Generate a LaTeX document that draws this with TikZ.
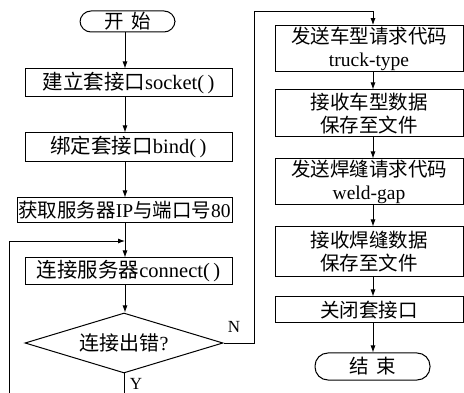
\documentclass[tikz,border=0pt]{standalone}
\usepackage{fontspec}
\setmainfont{Liberation Serif}
\newfontfamily\cjk{Noto Sans CJK SC}
\usetikzlibrary{shapes.geometric,arrows.meta}
\begin{document}
\begin{tikzpicture}[x=1pt,y=-1pt,
  every node/.style={inner sep=1pt},
  lbox/.style={draw,line width=1pt,minimum width=207pt,align=center,font=\fontsize{20.5}{23}\selectfont},
  rbox/.style={draw,line width=1pt,minimum width=188pt,align=center,font=\fontsize{19.5}{23}\selectfont},
  term/.style={draw,line width=1pt,rectangle,rounded corners=11pt,font=\fontsize{19.5}{23}\selectfont},
  dec/.style={draw,line width=1pt,diamond,aspect=3.3,inner sep=0pt,minimum width=198pt,minimum height=60pt,font=\fontsize{20}{23}\selectfont},
  lbl/.style={font=\fontsize{17}{20}\selectfont},
  arr/.style={line width=0.9pt,-{Latex[length=7pt,width=5pt]}},
  ln/.style={line width=0.9pt}]
\useasboundingbox (0,0) rectangle (464,393);
\coordinate (axis) at (125,0);
\coordinate (raxis) at (373,0);
% left column
\node[term,minimum width=95pt,minimum height=21pt] (start) at (127.5,21.5) {{\cjk 开\hspace{8pt}始}};
\node[lbox,minimum height=28pt] (s1) at (128.5,83) {{\cjk 建立套接口}socket(\,)};
\node[lbox,minimum height=29pt] (s2) at (128.5,147.5) {{\cjk 绑定套接口}bind(\,)};
\node[lbox,minimum width=215pt,minimum height=25pt,font=\fontsize{19.5}{22}\selectfont] (s3) at (124.5,210.5) {{\cjk 获取服务器}IP{\cjk 与端口号}80};
\node[lbox,minimum height=27pt] (s4) at (128.5,271.5) {{\cjk 连接服务器}connect(\,)};
\node[dec] (d) at (124,343) {{\cjk 连接出错}?};
% right column
\node[rbox,minimum height=43pt] (r1) at (369,48.5) {{\cjk 发送车型请求代码}\\truck-type};
\node[rbox,minimum height=47pt] (r2) at (369,113.5) {{\cjk 接收车型数据}\\{\cjk 保存至文件}};
\node[rbox,minimum height=46pt] (r3) at (369,182) {{\cjk 发送焊缝请求代码}\\weld-gap};
\node[rbox,minimum height=50pt] (r4) at (369,252) {{\cjk 接收焊缝数据}\\{\cjk 保存至文件}};
\node[rbox,minimum height=26pt] (r5) at (369,310) {{\cjk 关闭套接口}};
\node[term,minimum width=115pt,minimum height=27pt,rounded corners=13pt] (end) at (372.5,366.5) {{\cjk 结\hspace{8pt}束}};
% loop and branch coordinates
\coordinate (lb) at (9,393);
\coordinate (lt) at (9,241);
\coordinate (nt) at (254,11);
% left arrows
\draw[arr] (start.south -| axis) -- (s1.north -| axis);
\draw[arr] (s1.south -| axis) -- (s2.north -| axis);
\draw[arr] (s2.south -| axis) -- (s3.north -| axis);
\draw[arr] (s3.south -| axis) -- (s4.north -| axis);
\draw[arr] (s4.south -| axis) -- (d.north -| axis);
\draw[arr] (lb) -- (lt) -- (lt -| axis);
\draw[ln] (d.south) -- (d.south |- lb);
\node[lbl] (ylab) at (136,384) {Y};
% N branch
\draw[arr] (d.east) -| (nt) -| (r1.north -| raxis);
\node[lbl] (nlab) at (234,327) {N};
% right arrows
\draw[arr] (r1.south -| raxis) -- (r2.north -| raxis);
\draw[arr] (r2.south -| raxis) -- (r3.north -| raxis);
\draw[arr] (r3.south -| raxis) -- (r4.north -| raxis);
\draw[arr] (r4.south -| raxis) -- (r5.north -| raxis);
\draw[arr] (r5.south -| raxis) -- (end.north -| raxis);
\end{tikzpicture}
\end{document}
